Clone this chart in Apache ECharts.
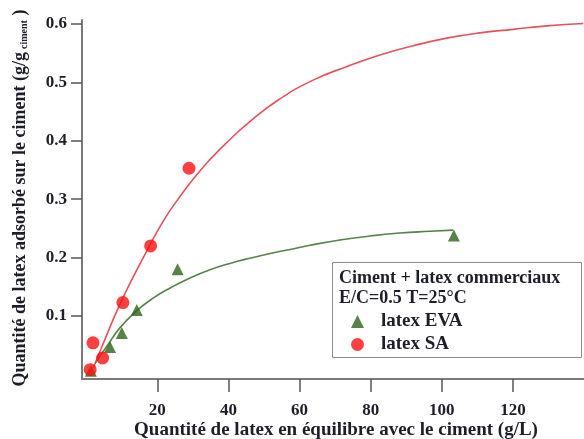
<!DOCTYPE html>
<html>
<head>
<meta charset="utf-8">
<script src="https://cdn.jsdelivr.net/npm/echarts@6/dist/echarts.min.js"></script>
<style>html,body{margin:0;padding:0;background:#fff;}#c{width:584px;height:439px;}</style>
</head>
<body>
<div id="c"></div>
<script>
// Measured points
var saX = [1.1, 1.9, 4.6, 10.3, 18.1, 28.9];
var saY = [0.008, 0.054, 0.028, 0.123, 0.220, 0.353];
var evaX = [1.3, 6.7, 10.0, 14.2, 25.7, 103.4];
var evaY = [0.006, 0.047, 0.071, 0.110, 0.180, 0.238];
// Fitted curves
var saFitX = [2.0, 3.9, 10.0, 17.0, 21.7, 26.4, 31.1, 34.8, 39.5, 46.0, 54.0, 63.8, 73.2, 82.6, 92.0, 101.4, 110.7, 120.1, 129.5, 139.8];
var saFitY = [0.011, 0.040, 0.127, 0.211, 0.263, 0.305, 0.342, 0.368, 0.397, 0.433, 0.470, 0.504, 0.527, 0.547, 0.563, 0.576, 0.585, 0.591, 0.597, 0.601];
var evaFitX = [2.5, 5.8, 9.5, 14.2, 18.9, 23.6, 29.2, 34.8, 40.4, 46.0, 51.7, 57.3, 62.9, 71.3, 79.8, 88.2, 96.6, 103.2];
var evaFitY = [0.019, 0.048, 0.080, 0.109, 0.131, 0.148, 0.165, 0.179, 0.190, 0.199, 0.207, 0.214, 0.221, 0.230, 0.237, 0.242, 0.245, 0.247];
// Ticks
var xTicks = [20, 40, 60, 80, 100, 120];
var yTicks = [0.1, 0.2, 0.3, 0.4, 0.5, 0.6];
var xTitle = 'Quantité de latex en équilibre avec le ciment (g/L)';
var yTitleMain = 'Quantité de latex adsorbé sur le ciment (g/g';
var yTitleSub = 'ciment';
var legendTitle1 = 'Ciment + latex commerciaux';
var legendTitle2 = 'E/C=0.5 T=25°C';
var nameEVA = 'latex EVA';
var nameSA = 'latex SA';

function zip(a, b) { return a.map(function (v, i) { return [v, b[i]]; }); }

var FONT = 'Liberation Serif';
var TXT = '#1e1e2a';

var chart = echarts.init(document.getElementById('c'));
chart.setOption({
  animation: false,
  backgroundColor: '#fff',
  grid: { left: 82, right: 0, top: 20, bottom: 60 },
  xAxis: {
    type: 'value', min: -1.2, max: 140,
    splitLine: { show: false },
    axisLine: { show: true, onZero: false, lineStyle: { color: '#7a7a7a', width: 2 } },
    axisTick: { show: true, length: 13, customValues: xTicks, lineStyle: { color: '#555', width: 1.5 } },
    axisLabel: { customValues: xTicks, margin: 23, fontFamily: FONT, fontWeight: 'bold', fontSize: 17, color: TXT }
  },
  yAxis: {
    type: 'value', min: -0.008, max: 0.607,
    splitLine: { show: false },
    axisLine: { show: true, onZero: false, lineStyle: { color: '#7a7a7a', width: 2 } },
    axisTick: { show: true, length: 11, customValues: yTicks, lineStyle: { color: '#555', width: 1.5 } },
    axisLabel: { customValues: yTicks, margin: 15, fontFamily: FONT, fontWeight: 'bold', fontSize: 17, color: TXT,
      formatter: function (v) { return v.toFixed(1); } }
  },
  legend: {
    orient: 'vertical', left: 346, top: 307, itemGap: 4, itemWidth: 13, itemHeight: 13,
    data: [nameEVA, nameSA],
    textStyle: { fontFamily: FONT, fontWeight: 'bold', fontSize: 19, color: TXT, padding: [0, 0, 0, 12] }
  },
  graphic: [
    { type: 'rect', z: 1, shape: { x: 332.5, y: 262.5, width: 249, height: 95 },
      style: { fill: '#fff', stroke: '#8a8a8a', lineWidth: 1 } },
    { type: 'text', z: 2, x: 339, y: 278, style: { text: legendTitle1, font: 'bold 18px "Liberation Serif"', fill: TXT, verticalAlign: 'middle' } },
    { type: 'text', z: 2, x: 339, y: 298, style: { text: legendTitle2, font: 'bold 18px "Liberation Serif"', fill: TXT, verticalAlign: 'middle' } },
    { type: 'text', z: 2, x: 336, y: 430, style: { text: xTitle, font: 'bold 19px "Liberation Serif"', fill: TXT, align: 'center', verticalAlign: 'middle' } },
    { type: 'text', z: 2, x: 20, y: 198, rotation: Math.PI / 2,
      style: { text: yTitleMain + '{sub|' + yTitleSub + '} )', fontFamily: FONT, fontWeight: 'bold', fontSize: 18, fill: TXT,
        align: 'center', verticalAlign: 'middle',
        rich: { sub: { fontSize: 10, fontFamily: FONT, fontWeight: 'bold', fill: TXT, padding: [9, 0, 0, 3] } } } }
  ],
  series: [
    { name: 'fit SA', type: 'line', data: zip(saFitX, saFitY), smooth: 0.5, showSymbol: false, symbol: 'none',
      lineStyle: { color: '#e5525c', width: 1.6 }, z: 2 },
    { name: 'fit EVA', type: 'line', data: zip(evaFitX, evaFitY), smooth: 0.5, showSymbol: false, symbol: 'none',
      lineStyle: { color: '#55834a', width: 1.6 }, z: 2 },
    { name: nameEVA, type: 'scatter', data: zip(evaX, evaY), symbol: 'triangle', symbolSize: 12,
      itemStyle: { color: '#2c6418' }, z: 3 },
    { name: nameSA, type: 'scatter', data: zip(saX, saY), symbol: 'circle', symbolSize: 13,
      itemStyle: { color: '#ff1010' }, z: 4 }
  ]
});
</script>
</body>
</html>
